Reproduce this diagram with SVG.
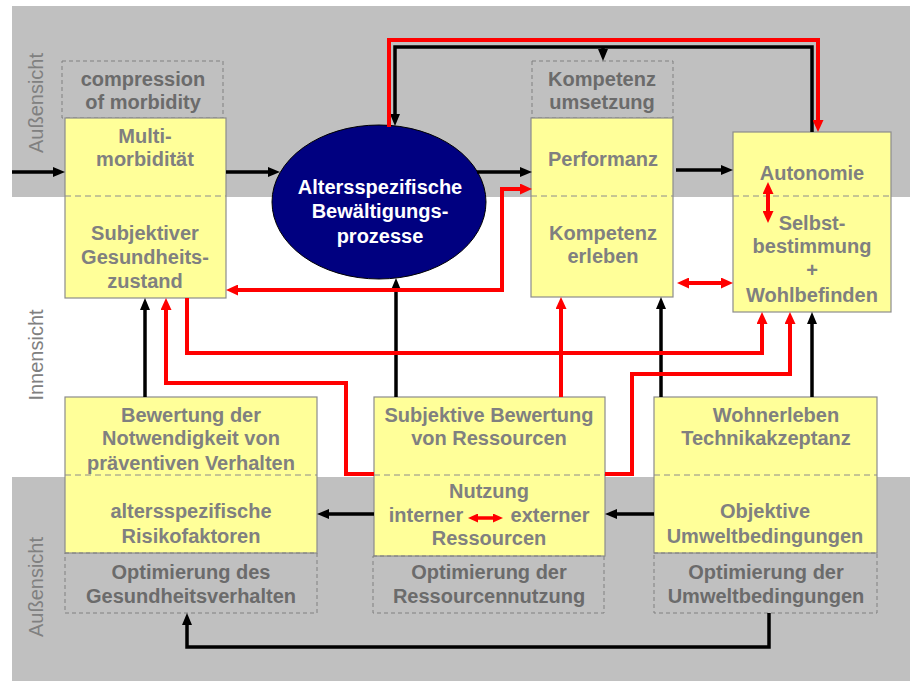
<svg xmlns="http://www.w3.org/2000/svg" width="910" height="681" viewBox="0 0 910 681">
<defs>
<marker id="ab" markerUnits="userSpaceOnUse" markerWidth="12" markerHeight="10" refX="6" refY="5" orient="auto-start-reverse"><path d="M0,0 L12,5 L0,10 z" fill="#000"/></marker>
<marker id="ar" markerUnits="userSpaceOnUse" markerWidth="12" markerHeight="11" refX="6" refY="5.5" orient="auto-start-reverse"><path d="M0,0 L12,5.5 L0,11 z" fill="#f00"/></marker>
<marker id="as" markerUnits="userSpaceOnUse" markerWidth="10" markerHeight="9" refX="5" refY="4.5" orient="auto-start-reverse"><path d="M0,0 L10,4.5 L0,9 z" fill="#f00"/></marker>
</defs>
<style>
.box{fill:#FFFF99;stroke:#8C8C8C;stroke-width:1.2}
.dash{fill:none;stroke:#808080;stroke-width:1;stroke-dasharray:4,3}
.div{stroke:#8C8C8C;stroke-width:1;stroke-dasharray:6,4}
.t{font-family:"Liberation Sans",Arial,sans-serif;font-weight:bold;font-size:20px;fill:#808080;text-anchor:middle}
.td{font-family:"Liberation Sans",Arial,sans-serif;font-weight:bold;font-size:20px;fill:#6B6B6B;text-anchor:middle}
.tw{font-family:"Liberation Sans",Arial,sans-serif;font-weight:bold;font-size:20px;fill:#fff;text-anchor:middle}
.side{font-family:"Liberation Sans",Arial,sans-serif;font-size:20px;fill:#808080;text-anchor:middle}
.k{fill:none;stroke:#000;stroke-width:3.5;marker-end:url(#ab)}
.r{fill:none;stroke:#f00;stroke-width:4;marker-end:url(#ar)}
.r2{fill:none;stroke:#f00;stroke-width:4;marker-start:url(#ar);marker-end:url(#ar)}
</style>
<rect x="12" y="6" width="898" height="191" fill="#C0C0C0"/>
<rect x="12" y="477" width="898" height="204" fill="#C0C0C0"/>
<text class="side" transform="translate(43,103) rotate(-90)">Außensicht</text>
<text class="side" transform="translate(43,355) rotate(-90)">Innensicht</text>
<text class="side" transform="translate(43,587) rotate(-90)">Außensicht</text>

<g id="compression">
<rect class="dash" x="62" y="61" width="161" height="57"/>
<text class="td" x="143" y="86">compression</text>
<text class="td" x="143" y="109">of morbidity</text>
</g>
<g id="box1">
<rect class="box" x="65" y="118" width="161" height="180"/>
<line class="div" x1="65" y1="196" x2="226" y2="196"/>
<text class="t" x="145" y="143">Multi-</text>
<text class="t" x="145" y="166">morbidität</text>
<text class="t" x="145" y="240">Subjektiver</text>
<text class="t" x="145" y="264">Gesundheits-</text>
<text class="t" x="145" y="288">zustand</text>
</g>
<g id="ellipse">
<ellipse cx="379" cy="202" rx="107" ry="77" fill="#000080" stroke="#000" stroke-width="1"/>
<text class="tw" x="380" y="194">Altersspezifische</text>
<text class="tw" x="380" y="218">Bewältigungs-</text>
<text class="tw" x="380" y="243">prozesse</text>
</g>
<g id="kompetenzumsetzung">
<rect class="dash" x="532" y="61" width="141" height="57"/>
<text class="td" x="602" y="86">Kompetenz</text>
<text class="td" x="602" y="109">umsetzung</text>
</g>
<g id="box2">
<rect class="box" x="531" y="118" width="142" height="179"/>
<line class="div" x1="531" y1="196" x2="673" y2="196"/>
<text class="t" x="603" y="166">Performanz</text>
<text class="t" x="603" y="240">Kompetenz</text>
<text class="t" x="603" y="263">erleben</text>
</g>
<g id="box3">
<rect class="box" x="733" y="132" width="158" height="180"/>
<line class="div" x1="733" y1="196" x2="891" y2="196"/>
<text class="t" x="812" y="180">Autonomie</text>
<text class="t" x="812" y="230">Selbst-</text>
<text class="t" x="812" y="253">bestimmung</text>
<text class="t" x="812" y="277">+</text>
<text class="t" x="812" y="302">Wohlbefinden</text>
</g>
<g id="box4">
<rect class="box" x="65" y="397" width="252" height="156"/>
<line class="div" x1="65" y1="475" x2="317" y2="475"/>
<text class="t" x="191" y="422">Bewertung der</text>
<text class="t" x="191" y="445">Notwendigkeit von</text>
<text class="t" x="191" y="470">präventiven Verhalten</text>
<text class="t" x="191" y="518">altersspezifische</text>
<text class="t" x="191" y="543">Risikofaktoren</text>
</g>
<g id="opt1">
<rect class="dash" x="65" y="553" width="252" height="60"/>
<text class="td" x="191" y="579">Optimierung des</text>
<text class="td" x="191" y="603">Gesundheitsverhalten</text>
</g>
<g id="box5">
<rect class="box" x="374" y="397" width="231" height="159"/>
<line class="div" x1="374" y1="475" x2="605" y2="475"/>
<text class="t" x="489" y="422">Subjektive Bewertung</text>
<text class="t" x="489" y="445">von Ressourcen</text>
<text class="t" x="489" y="498">Nutzung</text>
<text class="t" x="426" y="522">interner</text>
<text class="t" x="550" y="522">externer</text>
<text class="t" x="489" y="545">Ressourcen</text>
</g>
<g id="opt2">
<rect class="dash" x="373" y="556" width="231" height="57"/>
<text class="td" x="489" y="579">Optimierung der</text>
<text class="td" x="489" y="603">Ressourcennutzung</text>
</g>
<g id="box6">
<rect class="box" x="654" y="397" width="223" height="156"/>
<line class="div" x1="654" y1="475" x2="877" y2="475"/>
<text class="t" x="776" y="422">Wohnerleben</text>
<text class="t" x="766" y="445">Technikakzeptanz</text>
<text class="t" x="765" y="518">Objektive</text>
<text class="t" x="765" y="543">Umweltbedingungen</text>
</g>
<g id="opt3">
<rect class="dash" x="654" y="553" width="223" height="60"/>
<text class="td" x="766" y="579">Optimierung der</text>
<text class="td" x="766" y="603">Umweltbedingungen</text>
</g>

<g id="connectors">
<path class="k" d="M12,172 H59"/>
<path class="k" d="M226,172 H274"/>
<path class="k" d="M477,172 H526"/>
<path class="k" d="M676,170 H727"/>
<path class="k" d="M812,132 V47 H395 V120"/>
<path class="k" d="M603,47 V55"/>
<path class="k" d="M145,397 V304"/>
<path class="k" d="M396,397 V284"/>
<path class="k" d="M661,397 V303"/>
<path class="k" d="M812,397 V318"/>
<path class="k" d="M374,514 H323"/>
<path class="k" d="M654,514 H611"/>
<path class="k" d="M769,613 V647 H187 V619"/>
<path class="r" d="M389,127 V40 H818 V126"/>
<path class="r2" d="M232,290 H502 V189 H526"/>
<path class="r" d="M374,474 H346 V383 H166 V304"/>
<path class="r" d="M187,298 V353 H762 V318"/>
<path class="r" d="M605,474 H632 V374 H790 V318"/>
<path class="r" d="M561,397 V303"/>
<path class="r2" d="M683,283 H727"/>
<path class="r2" d="M768,188 V217"/>
<path fill="none" stroke="#f00" stroke-width="3.5" marker-start="url(#as)" marker-end="url(#as)" d="M473,518 H498"/>
</g>
</svg>
